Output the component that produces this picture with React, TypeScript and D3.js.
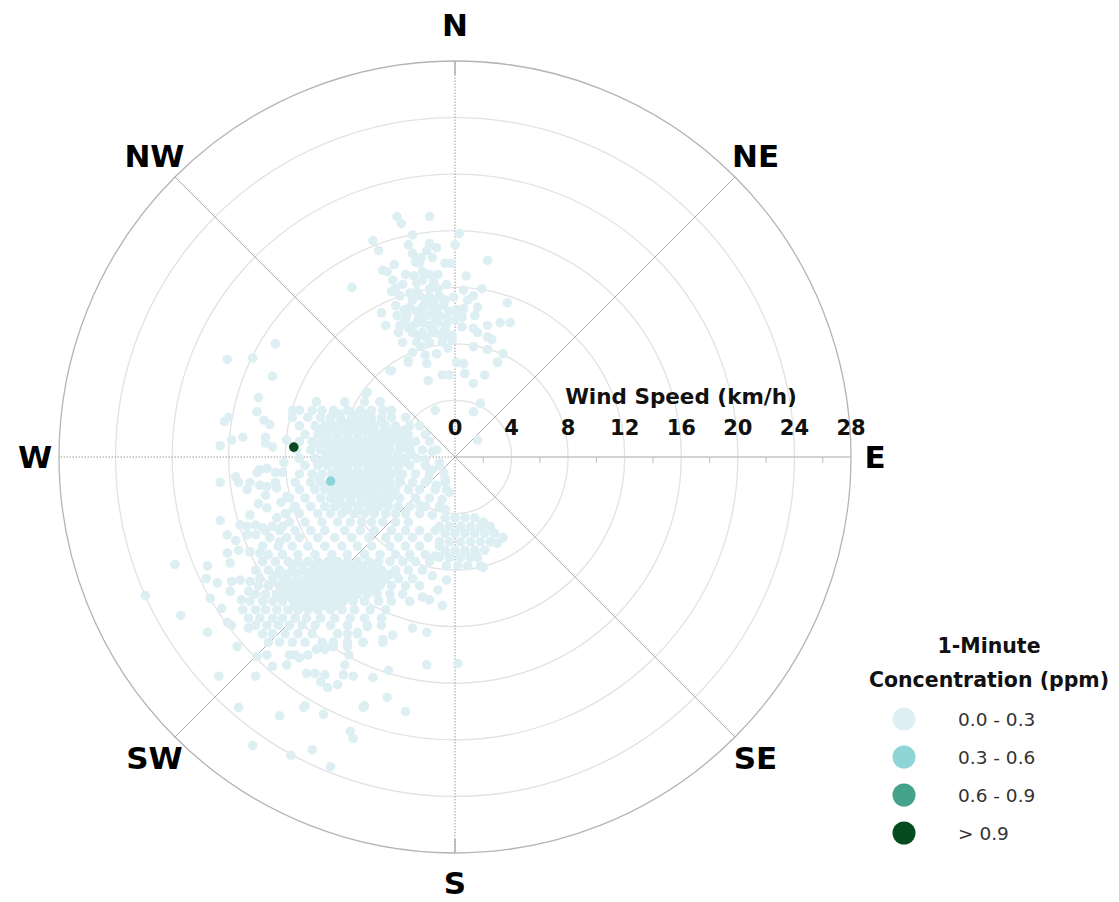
import React from "react";
import * as d3 from "d3";

// ---------- DATA (wind components in km/h: [east, north]) ----------
const speedTicks = [0, 4, 8, 12, 16, 20, 24, 28];
const minorTicks = [2, 6, 10, 14, 18, 22, 26];
const compassLabels = ["N", "NE", "E", "SE", "S", "SW", "W", "NW"];
const compassAngles = [0, 45, 90, 135, 180, 225, 270, 315];
const legendTitle = ["1-Minute", "Concentration (ppm)"];
const legendLabels = ["0.0 - 0.3", "0.3 - 0.6", "0.6 - 0.9", "> 0.9"];

const northCluster: [number, number][] = [
  [-4.1, 17.0], [-3.8, 16.5], [-1.8, 17.0], [-3.0, 15.7], [0.3, 15.8], [-5.8, 15.3], [-5.4, 14.6],
  [-3.3, 15.0], [-1.8, 15.1], [-1.3, 14.8], [0, 15.0], [-3.0, 14.4], [-2.0, 14.6], [-1.6, 14.1],
  [2.3, 13.9], [-2.8, 13.8], [-2.5, 13.7], [-0.7, 13.7], [-0.3, 13.7], [-5.1, 13.2], [-4.8, 13.1],
  [-2.3, 13.1], [-1.8, 12.9], [-1.2, 12.9], [0.8, 12.8], [-7.3, 12.0], [-4.4, 12.5], [-4.2, 11.9],
  [-3.7, 12.2], [-2.7, 12.3], [-2.3, 12.5], [-1.8, 11.9], [-1.2, 11.9], [0.6, 11.8], [1.9, 11.9],
  [-4.5, 11.7], [-3.2, 11.6], [-2.7, 11.7], [-1.8, 11.4], [-0.1, 11.3], [1.3, 11.4], [0.9, 11.1],
  [3.7, 10.9], [-5.2, 10.2], [-3.0, 11.1], [-3.2, 10.6], [-2.3, 10.6], [-1.8, 10.7], [-1.3, 10.5],
  [-0.8, 10.7], [0.6, 10.5], [1.6, 10.6], [-4.1, 10.0], [-2.5, 10.0], [-2.0, 10.0], [-1.6, 10.2],
  [-1.1, 10.0], [-0.6, 9.9], [0.5, 9.9], [1.4, 10.0], [-4.9, 9.3], [-3.9, 9.3], [-3.3, 9.1],
  [-2.3, 9.5], [-1.8, 9.3], [-1.2, 9.5], [-0.6, 9.4], [0.5, 9.2], [1.3, 9.1], [2.3, 9.3],
  [3.2, 9.5], [3.9, 9.5], [-4.0, 8.8], [-3.0, 8.8], [-2.3, 8.8], [-1.6, 8.8], [-0.8, 8.5],
  [-0.2, 8.6], [1.6, 8.8], [2.3, 8.5], [-3.7, 8.1], [-2.7, 8.1], [-1.8, 8.1], [-0.9, 8.1],
  [-0.2, 8.3], [1.3, 7.8], [2.3, 7.6], [2.6, 8.3], [-3.0, 7.4], [-2.1, 7.2], [-1.3, 7.3],
  [3.4, 7.3], [-3.3, 6.8], [-2.0, 6.6], [0.1, 6.7], [0.6, 6.6], [3.0, 6.7], [-4.5, 6.1],
  [-1.9, 5.4], [-0.9, 5.8], [-0.4, 5.8], [0.7, 5.9], [1.3, 5.2], [2.1, 5.8], [-6.3, 4.5],
  [-2.5, 11.4], [-2.1, 11.1], [-1.4, 11.1], [-1.1, 11.4], [-0.7, 11.1], [-2.6, 9.7], [-0.7, 9.0],
  [0, 9.7], [-2.6, 8.6], [-3.5, 9.7], [-4.2, 10.7], [-3.9, 11.4], [-2.9, 12.8], [-1.5, 12.4],
  [-0.6, 12.2], [-3.4, 10.1], [-2.9, 9.3], [-1.4, 9.8], [-2.0, 8.4], [-1.1, 8.7], [0.1, 10.4],
  [-3.6, 10.4], [-2.7, 10.3], [-0.4, 10.3], [-1.5, 9.0], [-2.4, 7.8], [-0.5, 7.7], [-3.5, 12.9],
  [-2.4, 14.1], [-4.3, 13.6],
];

// rows of the dense west / south-west cluster: [north, east values]
const westCoreRows: [number, number[]][] = [
  [3.9, [-9.8, -7.8, -6.4, -5.3]],
  [3.3, [-11.0, -10.1, -9.4, -8.6, -7.6, -6.7, -5.9, -5.1, -4.5]],
  [2.8, [-11.5, -10.4, -9.5, -8.8, -8.1, -7.3, -6.6, -5.9, -5.2, -4.5, -3.5]],
  [2.2, [-11.0, -9.9, -9.2, -8.5, -7.8, -7.1, -6.4, -5.7, -4.9, -4.2, -3.2, -2.5]],
  [1.6, [-10.6, -9.7, -9.0, -8.3, -7.6, -6.9, -6.1, -5.4, -4.7, -4.0, -3.3, -2.1]],
  [1.1, [-11.0, -10.1, -9.4, -8.7, -8.0, -7.3, -6.6, -5.9, -5.2, -4.5, -3.7, -2.8, -1.8]],
  [0.5, [-11.2, -10.2, -9.5, -8.8, -8.1, -7.4, -6.7, -6.0, -5.3, -4.6, -3.9, -3.2, -2.3, -1.3]],
  [-0.1, [-11.0, -9.9, -9.2, -8.5, -7.8, -7.1, -6.4, -5.7, -4.9, -4.2, -3.5, -2.7]],
  [-0.6, [-10.6, -9.7, -9.0, -8.3, -7.6, -6.9, -6.1, -5.4, -4.7, -4.0, -3.2, -2.1, -1.1]],
  [-1.2, [-11.0, -10.1, -9.4, -8.7, -8.0, -7.3, -6.6, -5.9, -5.2, -4.5, -3.7, -2.8, -1.8]],
  [-1.8, [-11.3, -10.2, -9.5, -8.8, -8.1, -7.4, -6.7, -6.0, -5.3, -4.6, -3.9, -3.0, -2.1, -0.7]],
  [-2.3, [-11.0, -9.9, -9.2, -8.5, -7.8, -7.1, -6.4, -5.7, -4.9, -4.2, -3.3, -2.5, -1.4]],
  [-2.9, [-11.7, -10.6, -9.5, -8.8, -8.1, -7.4, -6.7, -6.0, -5.3, -4.6, -3.9, -2.8, -1.8]],
  [-3.5, [-11.3, -10.2, -9.2, -8.5, -7.8, -6.9, -6.1, -5.4, -4.7, -4.0, -3.2, -2.1, -1.1]],
  [-4.0, [-12.0, -11.0, -9.7, -8.8, -8.0, -7.1, -6.4, -5.7, -4.9, -4.2, -3.5, -2.5]],
  [-4.6, [-11.7, -10.6, -9.4, -8.3, -7.4, -6.6, -5.9, -5.1, -4.2, -3.3]],
  [-5.2, [-13.4, -12.4, -11.3, -10.2, -9.2, -7.8, -6.7, -5.7, -4.5, -3.5, -2.5, -1.4]],
  [-5.7, [-13.1, -11.9, -11.0, -9.7, -8.5, -7.3, -6.1, -4.9, -4.0, -3.0, -1.9]],
  [-6.3, [-13.6, -12.5, -11.5, -10.4, -9.2, -8.0, -6.9, -5.9, -4.6, -3.5, -2.5, -1.1]],
  [-6.9, [-13.2, -12.2, -11.1, -9.9, -8.7, -7.6, -6.4, -5.3, -4.2, -3.2, -2.1]],
  [-7.4, [-13.6, -12.7, -11.8, -11.1, -10.4, -9.7, -9.0, -8.3, -7.6, -6.9, -6.1, -5.4, -4.6, -3.7, -2.8, -1.8]],
  [-8.0, [-14.1, -13.2, -12.4, -11.5, -10.8, -10.1, -9.4, -8.7, -8.0, -7.3, -6.6, -5.9, -5.2, -4.2, -3.3, -2.3]],
  [-8.6, [-13.8, -12.9, -12.0, -11.2, -10.5, -9.8, -9.1, -8.4, -7.7, -7.0, -6.3, -5.6, -4.9, -4.0, -3.0]],
  [-9.1, [-13.9, -13.2, -12.4, -11.7, -11.0, -10.2, -9.5, -8.8, -8.1, -7.4, -6.7, -6.0, -5.3, -4.5, -3.5, -2.5]],
  [-9.7, [-14.1, -13.4, -12.6, -11.9, -11.2, -10.5, -9.8, -9.0, -8.3, -7.6, -6.9, -6.2, -5.5, -4.6, -3.7]],
  [-10.2, [-14.5, -13.6, -12.9, -12.2, -11.4, -10.7, -10.0, -9.3, -8.6, -7.9, -7.2, -6.4, -5.4, -4.5, -3.2]],
  [-10.8, [-14.1, -13.4, -12.6, -11.8, -11.1, -10.4, -9.7, -8.8, -8.0, -7.1, -6.0, -4.9]],
  [-11.4, [-14.6, -13.8, -12.9, -12.2, -11.3, -10.5, -9.5, -8.5, -7.4, -6.4, -5.2]],
  [-11.9, [-14.1, -13.3, -12.5, -11.7, -10.8, -9.9, -8.8, -7.6, -6.2]],
  [-12.5, [-13.6, -12.9, -12.0, -11.1, -10.1, -8.3, -7.6, -6.9]],
  [-13.1, [-13.2, -12.4, -11.5, -10.6, -9.4, -8.6, -7.6, -6.5, -5.1]],
];

// extra rows where the west cluster is densest (between the rows above)
const westDenseRows: [number, number[]][] = [
  [3.05, [-8.2, -7.0, -6.2]],
  [2.5, [-8.8, -8.0, -7.4, -6.8, -6.0, -5.2]],
  [1.9, [-9.4, -8.6, -7.9, -7.2, -6.5, -5.8, -5.0, -4.3, -3.6]],
  [1.35, [-9.0, -8.3, -7.6, -6.9, -6.2, -5.5, -4.8, -4.1, -3.4]],
  [0.8, [-9.6, -8.9, -8.2, -7.5, -6.8, -6.1, -5.4, -4.7, -3.9, -3.2]],
  [0.2, [-9.0, -8.3, -7.6, -6.9, -6.2, -5.5, -4.8, -4.0, -3.1]],
  [-0.35, [-9.4, -8.6, -7.9, -7.2, -6.5, -5.8, -5.1, -4.4, -3.6]],
  [-0.9, [-8.3, -7.6, -6.9, -6.2, -5.5, -4.8, -4.0]],
  [-1.5, [-9.6, -8.2, -7.5, -6.8, -6.1, -5.4, -4.7, -3.9]],
  [-2.05, [-9.0, -8.3, -7.6, -6.9, -6.2, -5.5, -4.8]],
  [-2.6, [-8.6, -7.9, -7.2, -6.5, -5.8, -5.1, -4.4]],
  [-3.2, [-8.2, -7.4, -6.6, -5.8, -5.0]],
  [-3.75, [-7.6, -6.8, -6.0]],
  [-7.7, [-11.5, -10.8, -10.0, -9.3, -8.6, -7.9, -7.2, -6.5, -5.8]],
  [-8.3, [-12.6, -11.9, -11.2, -10.4, -9.7, -9.0, -8.3, -7.6, -6.9, -6.2, -5.5, -4.6]],
  [-8.85, [-12.9, -12.2, -11.5, -10.8, -10.1, -9.4, -8.7, -8.0, -7.3, -6.6, -5.9, -5.2]],
  [-9.4, [-12.0, -11.3, -10.6, -9.9, -9.2, -8.5, -7.8, -7.1, -6.4, -5.7]],
  [-9.95, [-12.3, -11.6, -10.9, -10.2, -9.5, -8.8, -8.1, -7.4]],
  [-10.5, [-11.3, -10.6, -9.9, -9.2, -8.4]],
];

// rows of the small cluster just south / south-east of the centre
const southeastRows: [number, number[]][] = [
  [-4.3, [-0.7, 0, 0.7, 1.4]],
  [-4.9, [-1.1, -0.4, 0.4, 1.1, 1.8, 2.5]],
  [-5.4, [-0.7, 0, 0.7, 1.4, 2.1, 2.8]],
  [-6.0, [-1.1, -0.4, 0.4, 1.1, 1.8, 2.5]],
  [-6.6, [-0.7, 0, 0.7, 1.4, 2.1]],
  [-7.1, [-1.1, -0.4, 0.4, 1.1, 1.6]],
  [-7.7, [-0.6, 0.2, 0.9, 1.8]],
];

const scatterPoints: [number, number][] = [
  // north-west / west outliers
  [-12.7, 8.0], [-16.1, 6.9], [-14.3, 7.0], [-12.9, 5.7], [-13.9, 4.2], [-14.0, 3.2], [-13.5, 2.6],
  [-13.1, 2.3], [-11.5, 3.3], [-16.0, 2.8], [-16.3, 2.5], [-15.0, 1.4], [-15.8, 1.2], [-16.6, 0.8],
  [-13.4, 1.4], [-13.4, 1.0], [-12.9, 0.7], [-11.9, 1.2],
  [-4.6, 6.1], [-3.3, 6.7], [-6.2, 4.6], [-5.3, 3.9],
  // west, below the W axis
  [-16.6, -1.8], [-15.5, -1.4], [-15.3, -1.8], [-14.5, -1.8], [-14.7, -2.3], [-14.0, -1.1], [-13.8, -0.9],
  [-13.3, -0.8], [-12.7, -1.1], [-12.2, -1.1], [-13.8, -2.0], [-13.3, -2.1], [-12.7, -1.8], [-12.6, -2.2],
  [-13.4, -2.7], [-11.9, -2.8], [-13.9, -3.3], [-13.3, -3.6], [-14.5, -4.1], [-16.6, -4.5], [-11.9, -4.0],
  [-11.4, -3.6], [-15.2, -4.8], [-14.7, -4.9], [-14.1, -4.8], [-13.6, -5.0], [-12.9, -4.9], [-12.2, -4.9],
  [-16.1, -5.5], [-15.5, -5.9], [-14.7, -5.5], [-14.1, -5.5], [-16.1, -6.8], [-15.3, -6.6], [-14.5, -6.7],
  [-13.8, -6.8], [-12.3, -3.2], [-12.6, -4.3], [-12.1, -0.4], [-12.4, -6.0],
  // south-west outliers and tail
  [-19.8, -7.6], [-21.9, -9.8], [-19.4, -11.2], [-17.5, -12.4], [-17.5, -7.7], [-17.6, -8.6], [-16.8, -8.9],
  [-15.9, -7.5], [-15.8, -8.8], [-15.9, -9.5], [-17.3, -10.0], [-16.5, -10.7], [-15.2, -8.7], [-15.1, -10.1],
  [-14.5, -8.8], [-14.6, -9.5], [-15.0, -10.8], [-16.1, -11.7], [-15.8, -11.9], [-14.6, -12.1], [-15.4, -13.4],
  [-16.7, -15.5], [-14.1, -15.5], [-15.3, -17.7], [-12.4, -18.3], [-10.7, -17.7], [-9.3, -18.2], [-14.3, -20.4],
  [-11.6, -21.1], [-10.1, -20.7], [-8.8, -21.9], [-6.5, -17.7], [-7.4, -19.4], [-7.2, -19.9],
  [-14.0, -14.1], [-13.3, -14.0], [-12.9, -14.8], [-11.9, -14.7], [-11.7, -14.0], [-11.0, -14.2], [-10.4, -14.0],
  [-9.8, -13.6], [-9.2, -13.6], [-8.6, -13.4], [-10.5, -15.3], [-9.2, -15.4], [-8.3, -16.1], [-7.8, -14.7],
  [-7.2, -15.5], [-7.6, -13.4], [-6.5, -13.1], [-5.8, -15.6], [-5.1, -12.9], [-5.2, -11.9], [-6.2, -12.0],
  [-6.9, -12.4], [-11.3, -14.0], [-9.4, -13.4], [-7.5, -14.0], [-7.9, -15.4], [-9.9, -15.3], [-9.5, -15.9],
  [-9.0, -16.3], [-4.7, -15.1], [-4.8, -17.0], [-3.5, -18.0], [-6.4, -17.6], [-10.6, -17.6],
  // near the centre
  [-1.4, 3.3], [-3.3, 0.6], [-1.6, -0.9], [-0.8, -1.1], [-0.6, -2.3], [-0.4, -2.5], [-0.9, -3.0],
  [1.8, 3.8], [1.3, 3.2], [1.6, 1.2], [-2.1, -0.2], [-1.6, 0.4], [-1.1, -0.4], [-1.9, -1.6],
  [-1.3, -2.0], [-0.7, -1.5], [-2.5, -3.4], [-1.6, -4.1], [-0.7, -3.7],
  // south / south-east outliers
  [2.0, -4.6], [2.8, -5.4], [3.4, -5.7], [3.0, -6.1], [2.0, -7.8], [-0.6, -8.7], [-1.2, -9.4],
  [-1.8, -10.1], [-0.9, -10.5], [-2.0, -12.4], [-3.0, -12.1], [-4.4, -12.6], [-2.0, -14.7], [0.2, -14.6],
  [-1.4, -7.0], [-1.6, -8.4], [-2.3, -9.9],
];

const midPoints: [number, number][] = [[-8.8, -1.7]];
const highPoints: [number, number][] = [[-11.4, 0.7]];

// ---------- LAYOUT ----------
const W = 1119;
const H = 902;
const cx = 455;
const cy = 457;
const R = 396;
const colors = ["#ddeff3", "#8fd4d7", "#43a28a", "#064b1d"];
const boldFont = "'DejaVu Sans', Verdana, sans-serif";

export default function App() {
  const rScale = d3.scaleLinear().domain([0, 28]).range([0, R]);
  const aScale = d3.scaleLinear().domain([0, 360]).range([0, 2 * Math.PI]);

  const toXY = (e: number, n: number) => {
    const speed = Math.hypot(e, n);
    const dir = ((Math.atan2(e, n) * 180) / Math.PI + 360) % 360;
    const [x, y] = d3.pointRadial(aScale(dir), rScale(speed));
    return [cx + x, cy + y];
  };

  type P = { e: number; n: number; c: number };
  const pts: P[] = [];
  northCluster.forEach(([e, n]) => pts.push({ e, n, c: 0 }));
  westCoreRows.forEach(([n, es]) => es.forEach((e) => pts.push({ e, n, c: 0 })));
  westDenseRows.forEach(([n, es]) => es.forEach((e) => pts.push({ e, n, c: 0 })));
  southeastRows.forEach(([n, es]) => es.forEach((e) => pts.push({ e, n, c: 0 })));
  scatterPoints.forEach(([e, n]) => pts.push({ e, n, c: 0 }));
  midPoints.forEach(([e, n]) => pts.push({ e, n, c: 1 }));
  highPoints.forEach(([e, n]) => pts.push({ e, n, c: 3 }));

  const labelPos = (a: number) => {
    const diag = a % 90 !== 0;
    const rr = diag ? 425 : a === 0 ? 432 : a === 180 ? 426 : 420;
    const [x, y] = d3.pointRadial(aScale(a), rr);
    return [cx + x, cy + y];
  };

  return (
    <svg width={W} height={H} style={{ position: "absolute", left: 0, top: 0, background: "#fff" }}>
      {/* rings */}
      {speedTicks.slice(1, -1).map((t) => (
        <circle key={t} cx={cx} cy={cy} r={rScale(t)} fill="none" stroke="#e2e2e2" strokeWidth={1.3} />
      ))}
      <circle cx={cx} cy={cy} r={rScale(28)} fill="none" stroke="#b4b4b4" strokeWidth={1.3} />
      {/* spokes */}
      {compassAngles.map((a) => {
        const [x, y] = d3.pointRadial(aScale(a), R);
        if (a === 90) return null;
        const dotted = a % 90 === 0;
        return (
          <line
            key={a}
            x1={cx}
            y1={cy}
            x2={cx + x}
            y2={cy + y}
            stroke={dotted ? "#9a9a9a" : "#ababab"}
            strokeWidth={1}
            strokeDasharray={dotted ? "1.5 1.5" : undefined}
          />
        );
      })}
      {[0, 180].map((a) => {
        const [x1, y1] = d3.pointRadial(aScale(a), R - 14);
        const [x2, y2] = d3.pointRadial(aScale(a), R);
        return <line key={"t" + a} x1={cx + x1} y1={cy + y1} x2={cx + x2} y2={cy + y2} stroke="#b0b0b0" strokeWidth={1.5} />;
      })}
      {/* east axis with ticks */}
      <line x1={cx} y1={cy} x2={cx + R} y2={cy} stroke="#c4c4c4" strokeWidth={1.5} />
      {minorTicks.map((t) => (
        <line key={t} x1={cx + rScale(t)} x2={cx + rScale(t)} y1={cy} y2={cy + 6} stroke="#c4c4c4" strokeWidth={1.2} />
      ))}
      {/* points */}
      {pts.map((p, i) => {
        const [x, y] = toXY(p.e, p.n);
        return <circle key={i} cx={x} cy={y} r={4.8} fill={colors[p.c]} />;
      })}
      {/* speed labels */}
      <text x={681} y={404} textAnchor="middle" fontFamily={boldFont} fontWeight={700} fontSize={21.5} fill="#111">
        Wind Speed (km/h)
      </text>
      {speedTicks.map((t) => (
        <text key={t} x={cx + rScale(t)} y={435} textAnchor="middle" fontFamily={boldFont} fontWeight={700} fontSize={21} fill="#111">
          {t}
        </text>
      ))}
      {/* compass labels */}
      {compassLabels.map((lab, i) => {
        const [x, y] = labelPos(compassAngles[i]);
        return (
          <text key={lab} x={x} y={y + 11} textAnchor="middle" fontFamily={boldFont} fontWeight={700} fontSize={31} fill="#000">
            {lab}
          </text>
        );
      })}
      {/* legend */}
      {legendTitle.map((t, i) => (
        <text key={t} x={989} y={653 + i * 34} textAnchor="middle" fontFamily={boldFont} fontWeight={700} fontSize={20.5} fill="#111">
          {t}
        </text>
      ))}
      {legendLabels.map((t, i) => (
        <g key={t} transform={`translate(0, ${719 + i * 38})`}>
          <circle cx={904} cy={0} r={11.5} fill={colors[i]} />
          <text x={958} y={7} fontFamily="'DejaVu Sans', sans-serif" fontSize={18.5} fill="#333">
            {t}
          </text>
        </g>
      ))}
    </svg>
  );
}
